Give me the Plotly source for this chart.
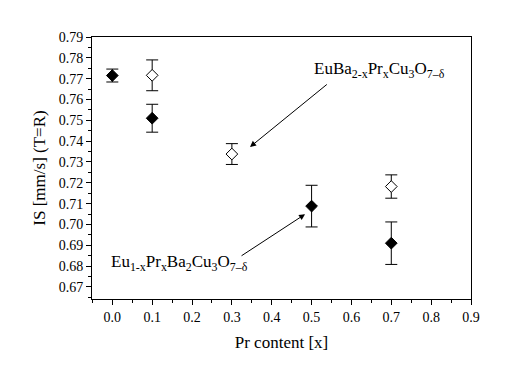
import plotly.graph_objects as go

# Eu(1-x)Pr(x)Ba2Cu3O(7-d)  -- filled diamonds
x_filled = [0.0, 0.1, 0.5, 0.7]
y_filled = [0.7715, 0.7510, 0.7088, 0.6910]
e_filled = [0.0031, 0.0067, 0.0100, 0.0102]

# EuBa(2-x)Pr(x)Cu3O(7-d)  -- open diamonds
x_open = [0.1, 0.3, 0.7]
y_open = [0.7716, 0.7338, 0.7182]
e_open = [0.0074, 0.0050, 0.0056]

label_open = "EuBa<sub>2-x</sub>Pr<sub>x</sub>Cu<sub>3</sub>O<sub>7–δ</sub>"
label_filled = "Eu<sub>1-x</sub>Pr<sub>x</sub>Ba<sub>2</sub>Cu<sub>3</sub>O<sub>7–δ</sub>"

FONT = "Liberation Serif, Times New Roman, serif"

fig = go.Figure()
fig.add_trace(go.Scatter(
    x=x_filled, y=y_filled, mode="markers",
    marker=dict(symbol="diamond", size=9, color="black", line=dict(color="black", width=1)),
    error_y=dict(type="data", array=e_filled, visible=True, color="black", thickness=1, width=6),
    showlegend=False))
fig.add_trace(go.Scatter(
    x=x_open, y=y_open, mode="markers",
    marker=dict(symbol="diamond", size=9, color="white", line=dict(color="black", width=1)),
    error_y=dict(type="data", array=e_open, visible=True, color="black", thickness=1, width=6),
    showlegend=False))

# text labels
fig.add_annotation(x=0.670, y=0.7742, xref="x", yref="y", text=label_open, showarrow=False,
                   font=dict(family=FONT, size=17, color="black"))
fig.add_annotation(x=0.168, y=0.6815, xref="x", yref="y", text=label_filled, showarrow=False,
                   font=dict(family=FONT, size=17, color="black"))
# arrows
fig.add_annotation(x=0.3455, y=0.7372, ax=0.542, ay=0.7678, xref="x", yref="y", axref="x", ayref="y",
                   text="", showarrow=True, arrowhead=2, arrowsize=1.2, arrowwidth=1, arrowcolor="black")
fig.add_annotation(x=0.4836, y=0.7049, ax=0.3205, ay=0.6845, xref="x", yref="y", axref="x", ayref="y",
                   text="", showarrow=True, arrowhead=2, arrowsize=1.2, arrowwidth=1, arrowcolor="black")

fig.update_layout(
    width=508, height=380,
    margin=dict(l=92, r=37, t=37, b=81),
    paper_bgcolor="white", plot_bgcolor="white",
    font=dict(family=FONT, size=14, color="black"),
    xaxis=dict(range=[-0.051, 0.9], tick0=0, dtick=0.1, tickformat=".1f",
               showline=True, linecolor="black", linewidth=1, mirror=True,
               ticks="outside", ticklen=5, tickcolor="black", showgrid=False, zeroline=False,
               minor=dict(dtick=0.05, tick0=0, ticks="outside", ticklen=3, tickcolor="black", showgrid=False),
               title=dict(text="Pr content [x]", font=dict(family=FONT, size=17), standoff=12),
               tickfont=dict(family=FONT, size=14)),
    yaxis=dict(range=[0.6642, 0.79], tick0=0.67, dtick=0.01, tickformat=".2f",
               showline=True, linecolor="black", linewidth=1, mirror=True,
               ticks="outside", ticklen=5, tickcolor="black", showgrid=False, zeroline=False,
               minor=dict(dtick=0.005, tick0=0.67, ticks="outside", ticklen=3, tickcolor="black", showgrid=False),
               title=dict(text="IS [mm/s] (T=R)", font=dict(family=FONT, size=17), standoff=8),
               tickfont=dict(family=FONT, size=14)),
)

fig.write_html("out.html")
